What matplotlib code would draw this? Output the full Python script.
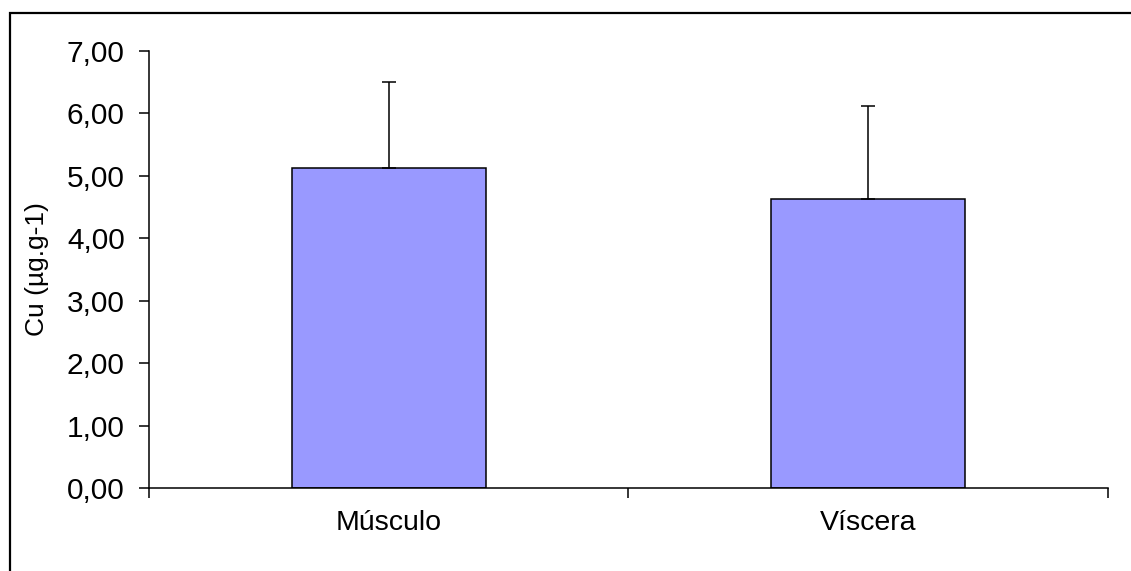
import matplotlib
matplotlib.use('Agg')
import matplotlib.pyplot as plt
from matplotlib.patches import Rectangle
from matplotlib.ticker import FuncFormatter

categories = ['Músculo', 'Víscera']
means = [5.13, 4.63]
errors_up = [1.37, 1.49]
y_ticks = [0, 1, 2, 3, 4, 5, 6, 7]

plt.rcParams['font.family'] = ['Liberation Sans', 'DejaVu Sans']

fig = plt.figure(figsize=(11.31, 5.71), dpi=100)
ax = fig.add_axes([0.1317, 0.1454, 0.8480, 0.7653])

x = [0.5, 1.5]
ax.bar(x, means, width=0.405, color='#9999FF', edgecolor='black', linewidth=1.1, zorder=2)
ax.errorbar(x, means, yerr=[[0, 0], errors_up], fmt='none', ecolor='black',
            elinewidth=1.1, capsize=4.7, capthick=1.1, zorder=3)

ax.set_xlim(0, 2)
ax.set_ylim(0, 7)
ax.set_yticks(y_ticks)
ax.yaxis.set_major_formatter(FuncFormatter(lambda v, p: f'{v:.2f}'.replace('.', ',')))
ax.set_xticks([0, 1, 2])
ax.set_xticklabels([])
ax.set_xticks(x, minor=True)
ax.set_xticklabels(categories, minor=True)
ax.tick_params(axis='x', which='minor', length=0, pad=16, labelsize=20.5)
ax.tick_params(axis='x', which='major', length=7.5, width=1.1, direction='out')
ax.tick_params(axis='y', length=7.5, width=1.1, direction='out', pad=10, labelsize=21.5)

for s in ['top', 'right']:
    ax.spines[s].set_visible(False)
for s in ['left', 'bottom']:
    ax.spines[s].set_linewidth(1.1)

ax.set_ylabel('Cu (µg.g-1)', fontsize=19, labelpad=13)

fig.patches.append(Rectangle((10 / 1131, -0.2), 1.5, 1.2 - 13 / 571,
                             transform=fig.transFigure, fill=False,
                             edgecolor='black', linewidth=1.6))

fig.savefig('out.png', dpi=100)
